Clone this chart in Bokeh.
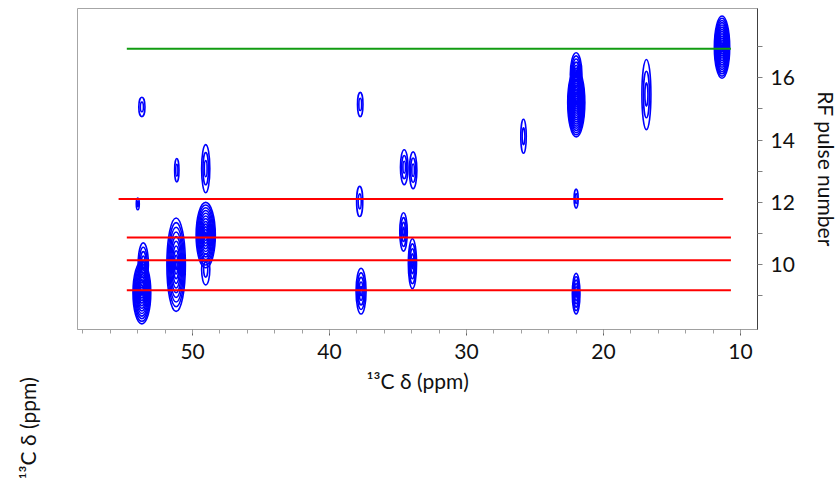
import numpy as np
from bokeh.plotting import figure
from bokeh.layouts import row
from bokeh.models import Range1d, SingleIntervalTicker, FixedTicker, ColumnDataSource
from bokeh.core.properties import value
from bokeh.embed import file_html
from bokeh.resources import INLINE

# ---- data ----
# cross-peaks: 13C shift (ppm), RF pulse number, extent in ppm, extent in pulses, number of contour levels
peak_ppm    = [53.7, 54.0, 51.15, 49.04, 53.7, 53.6, 51.2, 49.04, 49.04, 37.76, 37.8, 37.7,
               34.55, 33.9, 34.6, 33.95, 25.84, 21.99, 22.0, 22.0, 22.0, 16.87, 11.35]
peak_pulse  = [15.06, 11.95, 13.03, 13.08, 9.1, 10.0, 10.0, 10.95, 9.85, 15.14, 12.03, 9.15,
               13.13, 13.03, 11.05, 10.03, 14.12, 15.2, 16.1, 12.12, 9.07, 15.46, 16.98]
peak_width  = [0.45, 0.22, 0.32, 0.6, 1.3, 0.75, 1.35, 1.4, 0.6, 0.4, 0.45, 0.73,
               0.55, 0.55, 0.55, 0.6, 0.4, 1.25, 0.85, 0.3, 0.56, 0.66, 1.12]
peak_height = [0.62, 0.37, 0.75, 1.55, 2.0, 1.4, 3.0, 2.1, 1.0, 0.78, 0.97, 1.47,
               1.12, 1.18, 1.23, 1.6, 1.09, 2.2, 1.4, 0.61, 1.3, 2.25, 2.0]
peak_levels = [2, 2, 2, 3, 12, 5, 10, 12, 2, 2, 2, 5,
               3, 3, 4, 5, 2, 16, 7, 2, 6, 3, 14]

# horizontal marker lines
red_pulse = [9.18, 10.14, 10.87, 12.11]
red_start = [54.8, 54.8, 54.8, 55.4]
red_end   = [10.7, 10.7, 10.7, 11.27]
green_pulse = [16.93]
green_start = [54.8]
green_end   = [10.7]

y_major = [10, 12, 14, 16]
y_minor = [9, 11, 13, 15, 17]

x_title = "¹³C δ (ppm)"
y_title = "RF pulse number"

FONT = "Lato"

# ---- contour rings ----
rx, ry, rw, rh = [], [], [], []
for x, y, w, h, n in zip(peak_ppm, peak_pulse, peak_width, peak_height, peak_levels):
    for k in range(n):
        f = 1 - k / n
        rx.append(x); ry.append(y); rw.append(w * f); rh.append(h * f)
rings = ColumnDataSource(dict(x=rx, y=ry, w=rw, h=rh))

LEFT_W = 45

p = figure(frame_width=680, frame_height=321,
           min_border_left=77 - LEFT_W, min_border_right=82, min_border_top=8, min_border_bottom=70,
           x_range=Range1d(58.4, 8.76), y_range=Range1d(7.92, 18.22),
           y_axis_location="right", output_backend="svg", toolbar_location=None)
p.background_fill_color = "white"
p.border_fill_color = "white"
p.grid.visible = False
p.outline_line_color = "#a6a6a6"
p.outline_line_width = 1

p.ellipse(x="x", y="y", width="w", height="h", source=rings,
          fill_color=None, line_color="#0000ff", line_width=1.6)

p.segment(x0=red_start, y0=red_pulse, x1=red_end, y1=red_pulse,
          line_color="#ff0000", line_width=2)
p.segment(x0=green_start, y0=green_pulse, x1=green_end, y1=green_pulse,
          line_color="#119c11", line_width=2)

# x axis
xa = p.xaxis[0]
xa.ticker = SingleIntervalTicker(interval=10, num_minor_ticks=5)
xa.axis_label = x_title
xa.axis_line_color = "#a0a0a0"
xa.major_tick_line_color = "#606060"
xa.minor_tick_line_color = "#a0a0a0"
xa.major_tick_in = 0
xa.major_tick_out = 6
xa.minor_tick_in = 0
xa.minor_tick_out = 4
xa.major_label_standoff = 8
xa.major_label_text_font = FONT
xa.major_label_text_font_size = "21px"
xa.major_label_text_color = "#111111"
xa.axis_label_text_font = FONT
xa.axis_label_text_font_style = "normal"
xa.axis_label_text_font_size = "21px"
xa.axis_label_text_color = "#111111"
xa.axis_label_standoff = 6

# y axis (right)
ya = p.yaxis[0]
ya.ticker = FixedTicker(ticks=y_major, minor_ticks=y_minor)
ya.axis_label = y_title
ya.axis_line_color = "#404040"
ya.major_tick_line_color = "#808080"
ya.minor_tick_line_color = "#808080"
ya.major_tick_in = 0
ya.major_tick_out = 5
ya.minor_tick_in = 0
ya.minor_tick_out = 5
ya.major_label_standoff = 8
ya.major_label_text_font = FONT
ya.major_label_text_font_size = "21px"
ya.major_label_text_color = "#111111"
ya.axis_label_text_font = FONT
ya.axis_label_text_font_style = "normal"
ya.axis_label_text_font_size = "21px"
ya.axis_label_text_color = "#111111"
ya.axis_label_standoff = 16

# narrow strip on the left holding the stray rotated label
s = figure(frame_width=LEFT_W, frame_height=478, min_border=0,
           x_range=Range1d(0, LEFT_W), y_range=Range1d(0, 478),
           x_axis_location=None, y_axis_location=None,
           output_backend="svg", toolbar_location=None)
s.grid.visible = False
s.outline_line_color = None
s.background_fill_color = "white"
s.border_fill_color = "white"
s.text(x=[27], y=[478 - 420], text=[x_title], angle=np.pi / 2,
       text_align="center", text_baseline="middle",
       text_font=value(FONT), text_font_size="21px", text_color="#111111")

layout = row(s, p)
open("out.html", "w").write(file_html(layout, INLINE))
